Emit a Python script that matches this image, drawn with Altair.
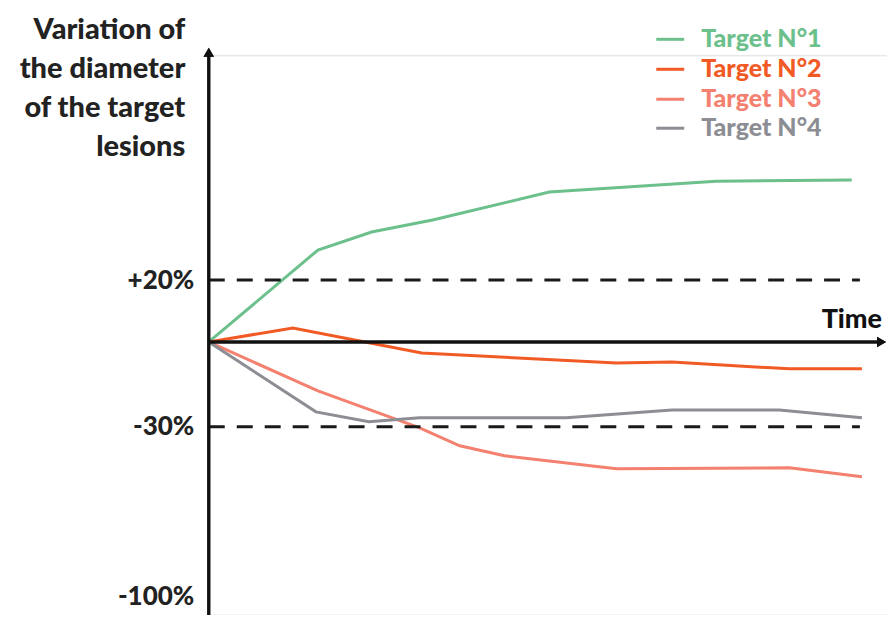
import altair as alt
import pandas as pd

# ---- data ----
series_names = ["Target N°1", "Target N°2", "Target N°3", "Target N°4"]
series_colors = ["#6CC08C", "#F15A24", "#F4806F", "#8C8E94"]

t1 = [0, 16.1, 24.0, 33.0, 50.2, 74.8, 94.8]
v1 = [0, 29.7, 35.5, 39.4, 48.4, 51.9, 52.3]
t2 = [0, 12.4, 31.4, 60.1, 68.3, 85.6, 96.3]
v2 = [0, 4.5, -3.9, -7.4, -7.1, -9.5, -9.5]
t3 = [0, 16.1, 31.1, 37.0, 43.6, 60.1, 85.6, 96.3]
v3 = [0, -17.3, -30.4, -37.8, -41.9, -47.3, -46.9, -50.6]
t4 = [0, 15.8, 23.6, 31.1, 52.7, 68.3, 84.1, 96.3]
v4 = [0, -24.7, -28.2, -26.8, -26.8, -24.0, -24.0, -26.8]

threshold_values = [20, -30]
threshold_end = 96
tick_values = [20, -30, -100]
y_title_lines = ["Variation of", "the diameter", "of the target", "lesions"]
x_title = ["Time"]

rows = []
for name, ts, vs in zip(series_names, [t1, t2, t3, t4], [v1, v2, v3, v4]):
    for t, v in zip(ts, vs):
        rows.append({"series": name, "t": t, "v": v})
lines_df = pd.DataFrame(rows)
thr_df = pd.DataFrame({"v": threshold_values, "t0": [0] * len(threshold_values),
                       "t1": [threshold_end] * len(threshold_values)})
legend_df = pd.DataFrame({"series": series_names})
xtitle_df = pd.DataFrame({"label": x_title})

FONT = "Lato"
W, H = 679, 560

color_scale = alt.Scale(domain=series_names, range=series_colors)
x_scale = alt.Scale(domain=[0, 100], nice=False, zero=False)
y_scale = alt.Scale(domain=[-100, -30, 0, 20], range=[542, 372, 287, 225], nice=False, zero=False)

y_axis = alt.Axis(
    values=tick_values, domain=False, ticks=False, grid=False,
    labelExpr="datum.value > 0 ? '+' + datum.value + '%' : datum.value + '%'",
    labelFont=FONT, labelFontWeight=900, labelFontSize=26, labelColor="#222222",
    labelPadding=15,
    title=y_title_lines, titleFont=FONT, titleFontWeight=900, titleFontSize=29,
    titleColor="#222222", titleAngle=0, titleAlign="right", titleBaseline="alphabetic",
    titleX=-24, titleY=-17, titleLineHeight=39,
)

lines = alt.Chart(lines_df).mark_line(strokeWidth=3).encode(
    x=alt.X("t:Q", scale=x_scale, axis=None),
    y=alt.Y("v:Q", scale=y_scale, axis=y_axis),
    color=alt.Color("series:N", scale=color_scale, legend=None),
    detail="series:N",
)

dashed = alt.Chart(thr_df).mark_rule(strokeWidth=3, strokeDash=[16, 12], color="#1a1a1a").encode(
    x=alt.X("t0:Q", scale=x_scale, axis=None),
    x2="t1:Q",
    y=alt.Y("v:Q", scale=y_scale, axis=y_axis),
)

x_axis_line = alt.Chart(thr_df).mark_rule(strokeWidth=3, color="#111111").encode(
    x=alt.XDatum(0, axis=None), x2=alt.datum(98.8), y=alt.YDatum(0, axis=y_axis)
)
y_axis_line = alt.Chart(thr_df).mark_rule(strokeWidth=3, color="#111111").encode(
    x=alt.value(0), y=alt.value(-2), y2=alt.value(H + 3)
)
x_arrow = alt.Chart(thr_df).mark_point(shape="triangle-right", filled=True, size=110,
                                       color="#111111", opacity=1).encode(
    x=alt.XDatum(99.2, axis=None), y=alt.YDatum(0, axis=y_axis)
)
y_arrow = alt.Chart(thr_df).mark_point(shape="triangle-up", filled=True, size=110,
                                       color="#111111", opacity=1).encode(
    x=alt.value(0), y=alt.value(-3)
)
x_title_mark = alt.Chart(xtitle_df).mark_text(
    align="right", baseline="alphabetic", font=FONT, fontWeight=900, fontSize=27, color="#111111"
).encode(x=alt.value(674), y=alt.value(273), text="label:N")

# legend drawn as guide: one row per series (pixel rows of the legend box)
legend_rows = [-16, 14, 44, 73]
legend_layers = []
for name, row in zip(series_names, legend_rows):
    base = alt.Chart(legend_df).transform_filter(alt.datum.series == name)
    legend_layers.append(base.mark_rule(strokeWidth=3).encode(
        x=alt.value(448), x2=alt.value(476), y=alt.value(row),
        color=alt.Color("series:N", scale=color_scale, legend=None),
    ))
    legend_layers.append(base.mark_text(
        align="left", baseline="middle", font=FONT, fontWeight=900, fontSize=25
    ).encode(
        x=alt.value(493), y=alt.value(row), text="series:N",
        color=alt.Color("series:N", scale=color_scale, legend=None),
    ))

chart = alt.layer(lines, dashed, x_axis_line, y_axis_line, x_arrow, y_arrow, x_title_mark,
                  *legend_layers).properties(
    width=W, height=H,
    autosize=alt.AutoSizeParams(type="none"),
    padding={"left": 201, "top": 47, "right": 0, "bottom": 0},
).configure_view(
    strokeWidth=0, stroke="transparent"
).configure_axis(
    domain=False, grid=False, ticks=False
).configure(background="white")

chart.save("out.html", embed_options={"renderer": "svg", "actions": False})
